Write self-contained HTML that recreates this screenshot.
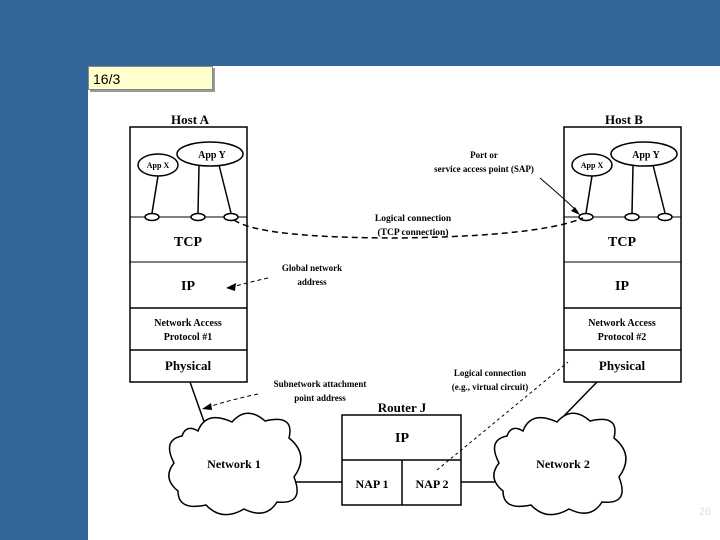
<!DOCTYPE html>
<html><head><style>
body{margin:0;width:720px;height:540px;background:#336699;position:relative;overflow:hidden;font-family:"Liberation Serif",serif}
.w{position:absolute;left:88px;top:66px;width:632px;height:474px;background:#fff}
.lab{position:absolute;left:88px;top:66px;width:125px;height:24px;background:#ffffcc;border:1px solid #888;box-shadow:2px 2px 0 #999;font:14px "Liberation Sans",sans-serif;line-height:24px;padding-left:4px;box-sizing:border-box}
svg{position:absolute;left:0;top:0}
text{font-family:"Liberation Serif",serif;font-weight:bold;text-anchor:middle}
</style></head><body>
<div class="w"></div>
<div class="lab">16/3</div>
<svg width="720" height="540">
<g fill="none" stroke="#000" stroke-width="1.5">
<rect x="130" y="127" width="117" height="255"/>
<line x1="130" y1="217" x2="247" y2="217" stroke-width="1"/>
<line x1="130" y1="262" x2="247" y2="262" stroke-width="1"/>
<line x1="130" y1="308" x2="247" y2="308"/>
<line x1="130" y1="350" x2="247" y2="350"/>
<rect x="564" y="127" width="117" height="255"/>
<line x1="564" y1="217" x2="681" y2="217" stroke-width="1"/>
<line x1="564" y1="262" x2="681" y2="262" stroke-width="1"/>
<line x1="564" y1="308" x2="681" y2="308"/>
<line x1="564" y1="350" x2="681" y2="350"/>
<rect x="342" y="415" width="119" height="90"/>
<line x1="342" y1="460" x2="461" y2="460"/>
<line x1="402" y1="460" x2="402" y2="505"/>
<ellipse cx="158" cy="165" rx="20" ry="11"/>
<ellipse cx="210" cy="154" rx="33" ry="12"/>
<ellipse cx="152" cy="217" rx="7" ry="3.5" fill="#fff"/>
<ellipse cx="198" cy="217" rx="7" ry="3.5" fill="#fff"/>
<ellipse cx="231" cy="217" rx="7" ry="3.5" fill="#fff"/>
<line x1="158" y1="176" x2="152" y2="213"/><line x1="199" y1="166" x2="198" y2="213"/><line x1="219" y1="165" x2="231" y2="213"/>
<ellipse cx="592" cy="165" rx="20" ry="11"/>
<ellipse cx="644" cy="154" rx="33" ry="12"/>
<ellipse cx="586" cy="217" rx="7" ry="3.5" fill="#fff"/>
<ellipse cx="632" cy="217" rx="7" ry="3.5" fill="#fff"/>
<ellipse cx="665" cy="217" rx="7" ry="3.5" fill="#fff"/>
<line x1="592" y1="176" x2="586" y2="213"/><line x1="633" y1="166" x2="632" y2="213"/><line x1="653" y1="165" x2="665" y2="213"/>
<path d="M234 220 Q260 238 400 238 Q540 236 583 218" stroke-dasharray="6,4"/>
<path d="M268 278 Q250 282 232 287" stroke-dasharray="4,3" stroke-width="1"/>
<path d="M540 178 Q560 195 578 212" stroke-width="1"/>
<path d="M258 394 Q230 400 208 407" stroke-dasharray="4,3" stroke-width="1"/>
<line x1="437" y1="470" x2="568" y2="362" stroke-dasharray="3,3" stroke-width="1"/>
<line x1="190" y1="382" x2="207" y2="430"/>
<line x1="597" y1="382" x2="560" y2="420"/>
<line x1="282" y1="482" x2="342" y2="482"/>
<line x1="461" y1="482" x2="518" y2="482"/>
<path d="M198 431 Q206 410 232 422 Q247 405 265 421 Q295 414 289 438 Q310 455 294 477 Q305 505 277 502 Q266 520 244 509 Q222 522 206 505 Q178 511 178 491 Q162 478 174 463 Q162 440 182 436 Q186 424 198 431Z" fill="#fff"/>
<path d="M523 431 Q531 410 557 422 Q572 405 590 421 Q620 414 614 438 Q635 455 619 477 Q630 505 602 502 Q591 520 569 509 Q547 522 531 505 Q503 511 503 491 Q487 478 499 463 Q487 440 507 436 Q511 424 523 431Z" fill="#fff"/>
</g>
<g fill="#000">
<polygon points="226,288 236,283 235,291"/>
<polygon points="202,409 211,403 212,410"/>
<polygon points="580,215 571,211 575,207"/>
</g>
<text x="190" y="124" font-size="13">Host A</text>
<text x="624" y="124" font-size="13">Host B</text>
<text x="158" y="168" font-size="8">App X</text>
<text x="212" y="158" font-size="10">App Y</text>
<text x="592" y="168" font-size="8">App X</text>
<text x="646" y="158" font-size="10">App Y</text>
<text x="188" y="246" font-size="14">TCP</text>
<text x="622" y="246" font-size="14">TCP</text>
<text x="188" y="290" font-size="14">IP</text>
<text x="622" y="290" font-size="14">IP</text>
<text x="188" y="326" font-size="10">Network Access</text>
<text x="188" y="340" font-size="10">Protocol #1</text>
<text x="622" y="326" font-size="10">Network Access</text>
<text x="622" y="340" font-size="10">Protocol #2</text>
<text x="188" y="370" font-size="13">Physical</text>
<text x="622" y="370" font-size="13">Physical</text>
<text x="484" y="158" font-size="9">Port or</text>
<text x="484" y="172" font-size="9">service access point (SAP)</text>
<text x="413" y="221" font-size="9.5">Logical connection</text>
<text x="413" y="235" font-size="9.5">(TCP connection)</text>
<text x="312" y="271" font-size="9">Global network</text>
<text x="312" y="285" font-size="9">address</text>
<text x="320" y="387" font-size="9">Subnetwork attachment</text>
<text x="320" y="401" font-size="9">point address</text>
<text x="490" y="376" font-size="9">Logical connection</text>
<text x="490" y="390" font-size="9">(e.g., virtual circuit)</text>
<text x="402" y="412" font-size="13">Router J</text>
<text x="402" y="442" font-size="14">IP</text>
<text x="372" y="488" font-size="12">NAP 1</text>
<text x="432" y="488" font-size="12">NAP 2</text>
<text x="234" y="468" font-size="12">Network 1</text>
<text x="563" y="468" font-size="12">Network 2</text>
<text x="705" y="515" font-size="11" fill="#ddd" style="font-family:'Liberation Sans';font-weight:normal">26</text>
</svg>
</body></html>
